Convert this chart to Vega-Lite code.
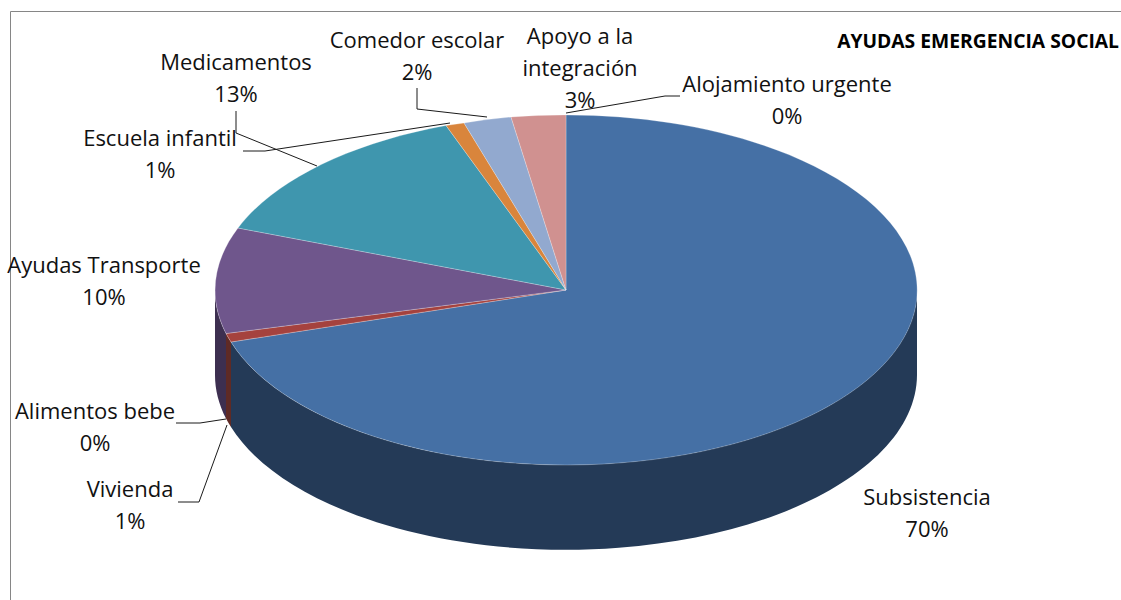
{
"$schema":"https://vega.github.io/schema/vega-lite/v6.json",
"width":1121,"height":600,"autosize":"none","padding":0,"background":"white",
"config":{"view":{"stroke":null}},
"datasets":{"slices":[
{"name":"Subsistencia","share":70,"lx":361,"ly":-208},
{"name":"Alimentos bebe","share":0,"lx":-471,"ly":-122},
{"name":"Vivienda","share":1,"lx":-436,"ly":-200},
{"name":"Ayudas Transporte","share":10,"lx":-462,"ly":24},
{"name":"Medicamentos","share":13,"lx":-330,"ly":227},
{"name":"Escuela infantil","share":1,"lx":-406,"ly":151},
{"name":"Comedor escolar","share":2,"lx":-149,"ly":249},
{"name":"Apoyo a la\nintegración","share":3,"lx":14,"ly":253},
{"name":"Alojamiento urgente","share":0,"lx":221,"ly":205}
]},
"data":{"name":"slices"},
"resolve":{"scale":{"shape":"independent","fill":"independent"}},
"layer":[
{"data":{"values":[{"part":"chart area"}]},
 "mark":{"type":"point","filled":false,"opacity":1,"stroke":"#868686","strokeWidth":1,"size":4},
 "encoding":{"x":{"datum":0,"type":"quantitative","scale":{"domain":[-566,555],"nice":false,"zero":false},"axis":null},
  "y":{"datum":0,"type":"quantitative","scale":{"domain":[-310,290],"nice":false,"zero":false},"axis":null},
  "shape":{"value":"M-555.5,310 L-555.5,-278.5 L555,-278.5"}}},
{"transform":[{"filter":{"field":"name","oneOf":["Subsistencia","Vivienda","Ayudas Transporte"]}}],
 "mark":{"type":"point","filled":true,"opacity":1,"size":4},
 "encoding":{"x":{"datum":0,"type":"quantitative","scale":{"domain":[-566,555],"nice":false,"zero":false},"axis":null},"y":{"datum":0,"type":"quantitative","scale":{"domain":[-310,290],"nice":false,"zero":false},"axis":null},
  "shape":{"field":"name","type":"nominal","legend":null,"scale":{"domain":["Subsistencia","Vivienda","Ayudas Transporte"],"range":[
   "M351,0 A351,175 0 0 1 -335,52 L-335,137 A351,175 0 0 0 351,85 Z",
   "M-335,52 A351,175 0 0 1 -340,43.5 L-340,128.5 A351,175 0 0 0 -335,137 Z",
   "M-340,43.5 A351,175 0 0 1 -351,0 L-351,85 A351,175 0 0 0 -340,128.5 Z"]}},
  "fill":{"field":"name","type":"nominal","legend":null,"scale":{"domain":["Subsistencia","Vivienda","Ayudas Transporte"],"range":["#243a57","#5f2a25","#3d2f50"]}}}},
{"transform":[{"filter":{"field":"share","gt":0}}],
 "mark":{"type":"point","filled":true,"opacity":1,"size":4,"stroke":"#ffffff","strokeOpacity":0.35,"strokeWidth":0.7},
 "encoding":{"x":{"datum":0,"type":"quantitative","scale":{"domain":[-566,555],"nice":false,"zero":false},"axis":null},"y":{"datum":0,"type":"quantitative","scale":{"domain":[-310,290],"nice":false,"zero":false},"axis":null},
  "shape":{"field":"name","type":"nominal","legend":null,"scale":{"domain":["Subsistencia","Vivienda","Ayudas Transporte","Medicamentos","Escuela infantil","Comedor escolar","Apoyo a la\nintegración"],"range":[
   "M0,0 L0,-175 A351,175 0 1 1 -335,52 Z",
   "M0,0 L-335,52 A351,175 0 0 1 -340,43.5 Z",
   "M0,0 L-340,43.5 A351,175 0 0 1 -328,-62 Z",
   "M0,0 L-328,-62 A351,175 0 0 1 -120,-164.5 Z",
   "M0,0 L-120,-164.5 A351,175 0 0 1 -102,-167 Z",
   "M0,0 L-102,-167 A351,175 0 0 1 -55,-173 Z",
   "M0,0 L-55,-173 A351,175 0 0 1 0,-175 Z"]}},
  "fill":{"field":"name","type":"nominal","legend":null,"scale":{"domain":["Subsistencia","Vivienda","Ayudas Transporte","Medicamentos","Escuela infantil","Comedor escolar","Apoyo a la\nintegración"],"range":["#4570a5","#a5423e","#6f568c","#3f96ae","#d9853c","#92a9cf","#d09190"]}}}},
{"transform":[{"filter":{"field":"name","oneOf":["Alojamiento urgente","Comedor escolar","Escuela infantil","Medicamentos","Alimentos bebe","Vivienda"]}}],
 "mark":{"type":"point","filled":false,"opacity":1,"size":4,"stroke":"#1a1a1a","strokeWidth":1},
 "encoding":{"x":{"datum":0,"type":"quantitative","scale":{"domain":[-566,555],"nice":false,"zero":false},"axis":null},"y":{"datum":0,"type":"quantitative","scale":{"domain":[-310,290],"nice":false,"zero":false},"axis":null},
  "shape":{"field":"name","type":"nominal","legend":null,"scale":{"domain":["Alojamiento urgente","Comedor escolar","Escuela infantil","Medicamentos","Alimentos bebe","Vivienda"],"range":[
   "M0,-177 L99,-194 L114,-194",
   "M-149,-202 L-149,-181 L-79,-173",
   "M-323,-139 L-301,-139 L-116,-167",
   "M-330,-179 L-330,-157 L-249,-124",
   "M-390,133 L-366,133 L-340,129",
   "M-388,212 L-367,212 L-339,135"]}}}},
{"transform":[{"calculate":"datum.name + '\\n' + datum.share + '%'","as":"label"}],
 "mark":{"type":"text","font":"Open Sans","fontSize":22,"lineBreak":"\n","lineHeight":32,"align":"center","baseline":"middle","color":"#111111"},
 "encoding":{"x":{"field":"lx","type":"quantitative","scale":{"domain":[-566,555],"nice":false,"zero":false},"axis":null},"y":{"field":"ly","type":"quantitative","scale":{"domain":[-310,290],"nice":false,"zero":false},"axis":null},"text":{"field":"label"}}},
{"data":{"values":[{"chart":"AYUDAS EMERGENCIA SOCIAL","tx":553,"ty":248}]},
 "mark":{"type":"text","font":"Open Sans","fontWeight":"bold","fontSize":19.3,"align":"right","baseline":"middle","color":"#000000"},
 "encoding":{"x":{"field":"tx","type":"quantitative","scale":{"domain":[-566,555],"nice":false,"zero":false},"axis":null},"y":{"field":"ty","type":"quantitative","scale":{"domain":[-310,290],"nice":false,"zero":false},"axis":null},"text":{"field":"chart"}}}
]
}
